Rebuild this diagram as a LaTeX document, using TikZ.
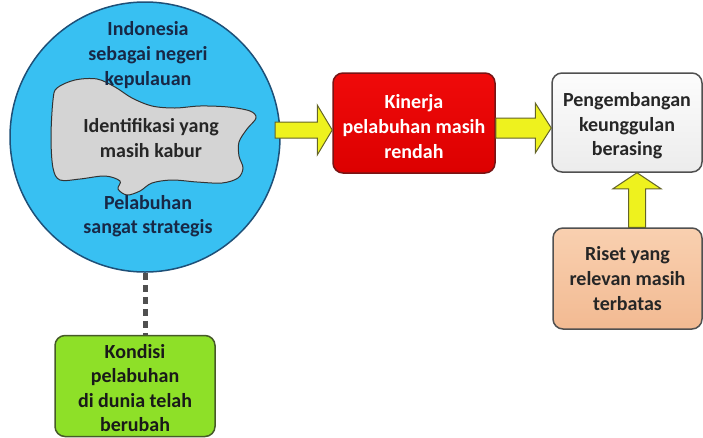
\documentclass[tikz,border=0pt]{standalone}
\usepackage{fontspec}
\setmainfont{Carlito}
\usetikzlibrary{calc}
\definecolor{circfill}{RGB}{56,192,242}
\definecolor{circline}{RGB}{30,80,120}
\definecolor{navytext}{RGB}{24,40,70}
\definecolor{blobfill}{RGB}{212,212,212}
\definecolor{redtop}{RGB}{240,10,10}
\definecolor{redbot}{RGB}{220,0,0}
\definecolor{redline}{RGB}{120,20,20}
\definecolor{whitetop}{RGB}{252,252,252}
\definecolor{whitebot}{RGB}{236,236,236}
\definecolor{grayline}{RGB}{80,80,80}
\definecolor{peachtop}{RGB}{249,208,176}
\definecolor{peachbot}{RGB}{242,186,146}
\definecolor{greenfill}{RGB}{142,224,40}
\definecolor{greenline}{RGB}{70,90,40}
\definecolor{yellowfill}{RGB}{238,242,30}
\definecolor{yellowline}{RGB}{100,100,40}
\definecolor{dashcol}{RGB}{80,80,80}
\tikzset{
  txt/.style={font=\fontsize{20}{24.6}\selectfont\bfseries, align=center, inner sep=0pt},
  box/.style={txt, draw, line width=1.5pt, rounded corners=10pt},
  barrow/.style={fill=yellowfill, draw=yellowline, line width=1pt, line join=miter},
}
\newcommand\toplift[1]{\rule{0pt}{#1}}
% horizontal block arrow: #1 start, #2 end, #3 shaft half, #4 head half, #5 head length
\newcommand\myharrow[5]{%
  \draw[barrow] let \p1=(#1), \p2=(#2) in
    (\x1,\y1+#3) -- (\x2-#5,\y1+#3) -- (\x2-#5,\y1+#4) -- (\x2,\y1)
    -- (\x2-#5,\y1-#4) -- (\x2-#5,\y1-#3) -- (\x1,\y1-#3) -- cycle;}
% vertical (upward) block arrow: #1 start (bottom), #2 end (top)
\newcommand\myvarrow[5]{%
  \draw[barrow] let \p1=(#1), \p2=(#2) in
    (\x1+#3,\y1) -- (\x1+#3,\y2-#5) -- (\x1+#4,\y2-#5) -- (\x1,\y2)
    -- (\x1-#4,\y2-#5) -- (\x1-#3,\y2-#5) -- (\x1-#3,\y1) -- cycle;}
\begin{document}
\begin{tikzpicture}[x=1pt,y=-1pt]
\useasboundingbox (0,0) rectangle (703,437);
% main circle
\node[circle, draw=circline, fill=circfill, line width=1.5pt, minimum size=270pt, inner sep=0pt] (circ) at (145,137) {};
% blob
\draw[fill=blobfill, draw=black!80, line width=1pt]
  plot[smooth cycle, tension=0.55] coordinates {
  (57,88) (75,80) (97,79) (115,87) (132,98) (152,106) (175,108) (200,106)
  (228,107) (250,111) (256,118) (247,129) (239,142) (239,156) (243,168)
  (238,178) (222,183) (197,182) (172,180) (152,183) (140,191) (127,195)
  (118,189) (120,181) (105,176) (80,179) (60,180) (53,168) (51,137) (53,100)};
\node[txt, text=navytext] (toptxt) at (148,55) {Indonesia\\sebagai negeri\\kepulauan};
\node[txt, text=black!85] (blobtxt) at (151,138) {Identifikasi yang\\masih kabur};
\node[txt, text=navytext] (bottxt) at (148,216) {Pelabuhan\\sangat strategis};
% boxes
\node[box, draw=redline, top color=redtop, bottom color=redbot, text=white, minimum width=162pt, minimum height=100pt] (red) at (414,123) {\toplift{21pt}Kinerja\\pelabuhan masih\\rendah};
\node[box, draw=grayline, top color=whitetop, bottom color=whitebot, text=black!85, minimum width=150pt, minimum height=99pt] (white) at (627,122.5) {\toplift{21pt}Pengembangan\\keunggulan\\berasing};
\node[box, draw=grayline, top color=peachtop, bottom color=peachbot, text=black!85, minimum width=149pt, minimum height=101pt] (riset) at (627.5,278.5) {Riset yang\\relevan masih\\terbatas};
\node[box, draw=greenline, fill=greenfill, text=black!90, minimum width=160pt, minimum height=101pt] (green) at (135,386) {\toplift{18pt}Kondisi\\pelabuhan\\di dunia telah\\berubah};
% connectors
\coordinate (a1s) at (275,130);
\myharrow{a1s}{red.west |- a1s}{8pt}{25pt}{15pt}
\coordinate (a2s) at (red.east |- 0,128);
\myharrow{a2s}{white.west |- a2s}{10pt}{25pt}{16pt}
\coordinate (a3s) at (637,0);
\myvarrow{riset.north -| a3s}{white.south -| a3s}{8.5pt}{24pt}{16pt}
\draw[dashcol, line width=5pt, dash pattern=on 7pt off 5pt] (circ.south) -- (circ.south |- green.north);
\end{tikzpicture}
\end{document}
